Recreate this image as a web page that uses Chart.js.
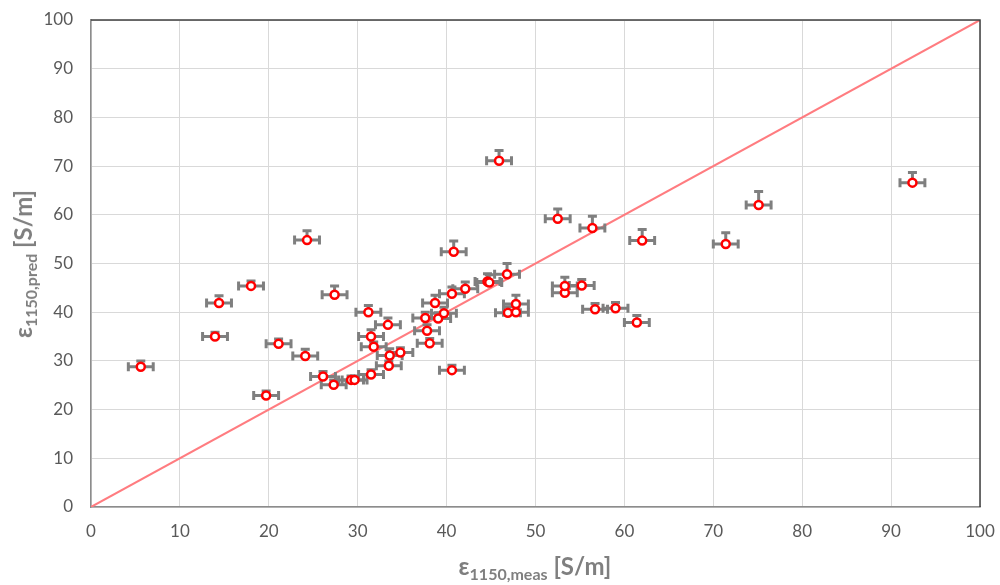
<!DOCTYPE html>
<html>
<head>
<meta charset="utf-8">
<script src="https://cdn.jsdelivr.net/npm/chart.js@4.4.1/dist/chart.umd.min.js"></script>
<style>
  body { margin: 0; background: #fff; }
  #wrap { position: relative; width: 1000px; height: 585px; }
  #chart { position: absolute; left: 0; top: 0; }
  .axis-title {
    position: absolute;
    font-family: Lato, "Open Sans", sans-serif;
    font-weight: bold;
    font-size: 24px;
    color: #7f7f7f;
    white-space: nowrap;
    line-height: 1;
  }
  .axis-title sub { font-size: 16px; vertical-align: -5px; }
  #xTitle { left: 535px; top: 554px; transform: translateX(-50%); }
  #yTitle { left: 25px; top: 264px; transform: translate(-50%, -50%) rotate(-90deg); }
</style>
</head>
<body>
<div id="wrap">
  <canvas id="chart" width="1000" height="585"></canvas>
  <div class="axis-title" id="xTitle">ε<sub>1150,meas</sub> [S/m]</div>
  <div class="axis-title" id="yTitle">ε<sub>1150,pred</sub> [S/m]</div>
</div>
<script>
// measured vs predicted conductivity, one entry per sample
var measured = [5.6, 13.95, 14.4, 18.0, 19.7, 21.1, 24.1, 24.3, 26.1, 27.3,
    27.4, 29.25, 29.65, 31.2, 31.5, 31.5, 31.8, 33.4, 33.6, 33.5,
    34.8, 37.6, 37.8, 38.1, 38.7, 39.05, 39.7, 40.6, 40.6, 40.8,
    42.1, 44.6, 44.8, 45.9, 46.8, 46.9, 47.8, 47.8, 52.5, 53.3,
    53.3, 55.2, 56.4, 56.7, 59.0, 61.4, 62.0, 71.4, 75.1, 92.4];
var predicted = [28.8, 35.0, 41.9, 45.4, 22.9, 33.5, 31.0, 54.8, 26.8, 25.1,
    43.6, 26.1, 26.1, 40.0, 27.2, 35.0, 32.9, 37.4, 31.1, 29.0,
    31.7, 38.8, 36.2, 33.6, 41.9, 38.7, 39.8, 28.1, 43.8, 52.4,
    44.8, 46.3, 46.1, 71.1, 47.8, 39.9, 40.0, 41.7, 59.2, 44.0,
    45.4, 45.5, 57.3, 40.6, 40.8, 37.9, 54.7, 54.0, 62.0, 66.6];
var measErr = [1.4, 1.4, 1.4, 1.4, 1.4, 1.4, 1.4, 1.4, 1.4, 1.4,
    1.4, 1.4, 1.4, 1.4, 1.4, 1.4, 1.4, 1.4, 1.4, 1.4,
    1.4, 1.4, 1.4, 1.4, 1.4, 1.4, 1.4, 1.4, 1.4, 1.4,
    1.4, 1.4, 1.4, 1.4, 1.4, 1.4, 1.4, 1.4, 1.4, 1.4,
    1.4, 1.4, 1.4, 1.4, 1.4, 1.4, 1.4, 1.4, 1.4, 1.4];
var predErr = [1.2, 0.9, 1.5, 1.0, 0.9, 1.0, 1.4, 1.9, 1.0, 1.0,
    1.8, 0.8, 0.8, 1.4, 1.0, 1.4, 1.0, 1.4, 1.4, 1.0,
    1.0, 1.2, 1.2, 1.0, 1.6, 1.2, 1.2, 1.0, 1.4, 2.2,
    1.4, 1.6, 1.6, 2.1, 2.2, 1.2, 1.2, 1.8, 2.0, 1.2,
    1.8, 1.2, 2.4, 1.2, 1.2, 1.4, 2.3, 2.3, 2.8, 2.1];
// 1:1 reference line
var identityLine = [0, 100];
var axisMin = 0, axisMax = 100, axisStep = 10;

var points = measured.map(function (x, i) {
    return {x: x, y: predicted[i]};
});

// error bars under the markers: x both ways, y plus only
var errorBars = {
    id: 'errorBars',
    beforeDatasetDraw: function (chart, args) {
        if (args.index !== 1) return;
        var ctx = chart.ctx;
        var xs = chart.scales.x, ys = chart.scales.y;
        ctx.save();
        ctx.strokeStyle = '#7f7f7f';
        ctx.lineWidth = 3;
        ctx.lineCap = 'butt';
        for (var i = 0; i < measured.length; i++) {
            var px = xs.getPixelForValue(measured[i]);
            var py = ys.getPixelForValue(predicted[i]);
            var x0 = xs.getPixelForValue(measured[i] - measErr[i]);
            var x1 = xs.getPixelForValue(measured[i] + measErr[i]);
            var yTop = ys.getPixelForValue(predicted[i] + predErr[i]);
            ctx.beginPath();
            ctx.moveTo(x0, py); ctx.lineTo(x1, py);
            ctx.moveTo(x0, py - 4.5); ctx.lineTo(x0, py + 4.5);
            ctx.moveTo(x1, py - 4.5); ctx.lineTo(x1, py + 4.5);
            ctx.moveTo(px, py); ctx.lineTo(px, yTop);
            ctx.moveTo(px - 4.5, yTop); ctx.lineTo(px + 4.5, yTop);
            ctx.stroke();
        }
        ctx.restore();
    }
};

// dark frame on the top and right edges of the plot
var plotFrame = {
    id: 'plotFrame',
    afterDraw: function (chart) {
        var a = chart.chartArea, ctx = chart.ctx;
        ctx.save();
        ctx.strokeStyle = '#404040';
        ctx.lineWidth = 1.5;
        ctx.beginPath();
        ctx.moveTo(a.left, a.top);
        ctx.lineTo(a.right, a.top);
        ctx.lineTo(a.right, a.bottom);
        ctx.stroke();
        ctx.restore();
    }
};

var tickFont = {family: 'Lato, "Open Sans", sans-serif', size: 17};

new Chart(document.getElementById('chart'), {
    type: 'scatter',
    data: {
        datasets: [{
            type: 'line',
            data: identityLine.map(function (v) { return {x: v, y: v}; }),
            borderColor: '#ff7c80',
            borderWidth: 2,
            pointRadius: 0,
            fill: false,
            order: 2
        }, {
            data: points,
            pointRadius: 4,
            pointBorderWidth: 2.5,
            pointBorderColor: '#ff0000',
            pointBackgroundColor: '#ffffff',
            order: 1
        }]
    },
    options: {
        responsive: false,
        animation: false,
        layout: {padding: {top: 20, right: 20, left: 0, bottom: 0}},
        plugins: {
            legend: {display: false},
            tooltip: {enabled: false}
        },
        scales: {
            x: {
                type: 'linear',
                min: axisMin, max: axisMax,
                ticks: {stepSize: axisStep, color: '#595959', font: tickFont, padding: 14, maxRotation: 0},
                grid: {color: '#d9d9d9', drawTicks: false},
                border: {color: '#8c8c8c', width: 1.5},
                afterFit: function (scale) {
                    scale.height = 78;
                    scale.paddingLeft = 0;
                    scale.paddingRight = 0;
                }
            },
            y: {
                type: 'linear',
                min: axisMin, max: axisMax,
                ticks: {stepSize: axisStep, color: '#595959', font: tickFont, padding: 18},
                grid: {color: '#d9d9d9', drawTicks: false},
                border: {color: '#8c8c8c', width: 1.5},
                afterFit: function (scale) {
                    scale.width = 91;
                    scale.paddingTop = 0;
                    scale.paddingBottom = 0;
                }
            }
        }
    },
    plugins: [errorBars, plotFrame]
});
</script>
</body>
</html>
